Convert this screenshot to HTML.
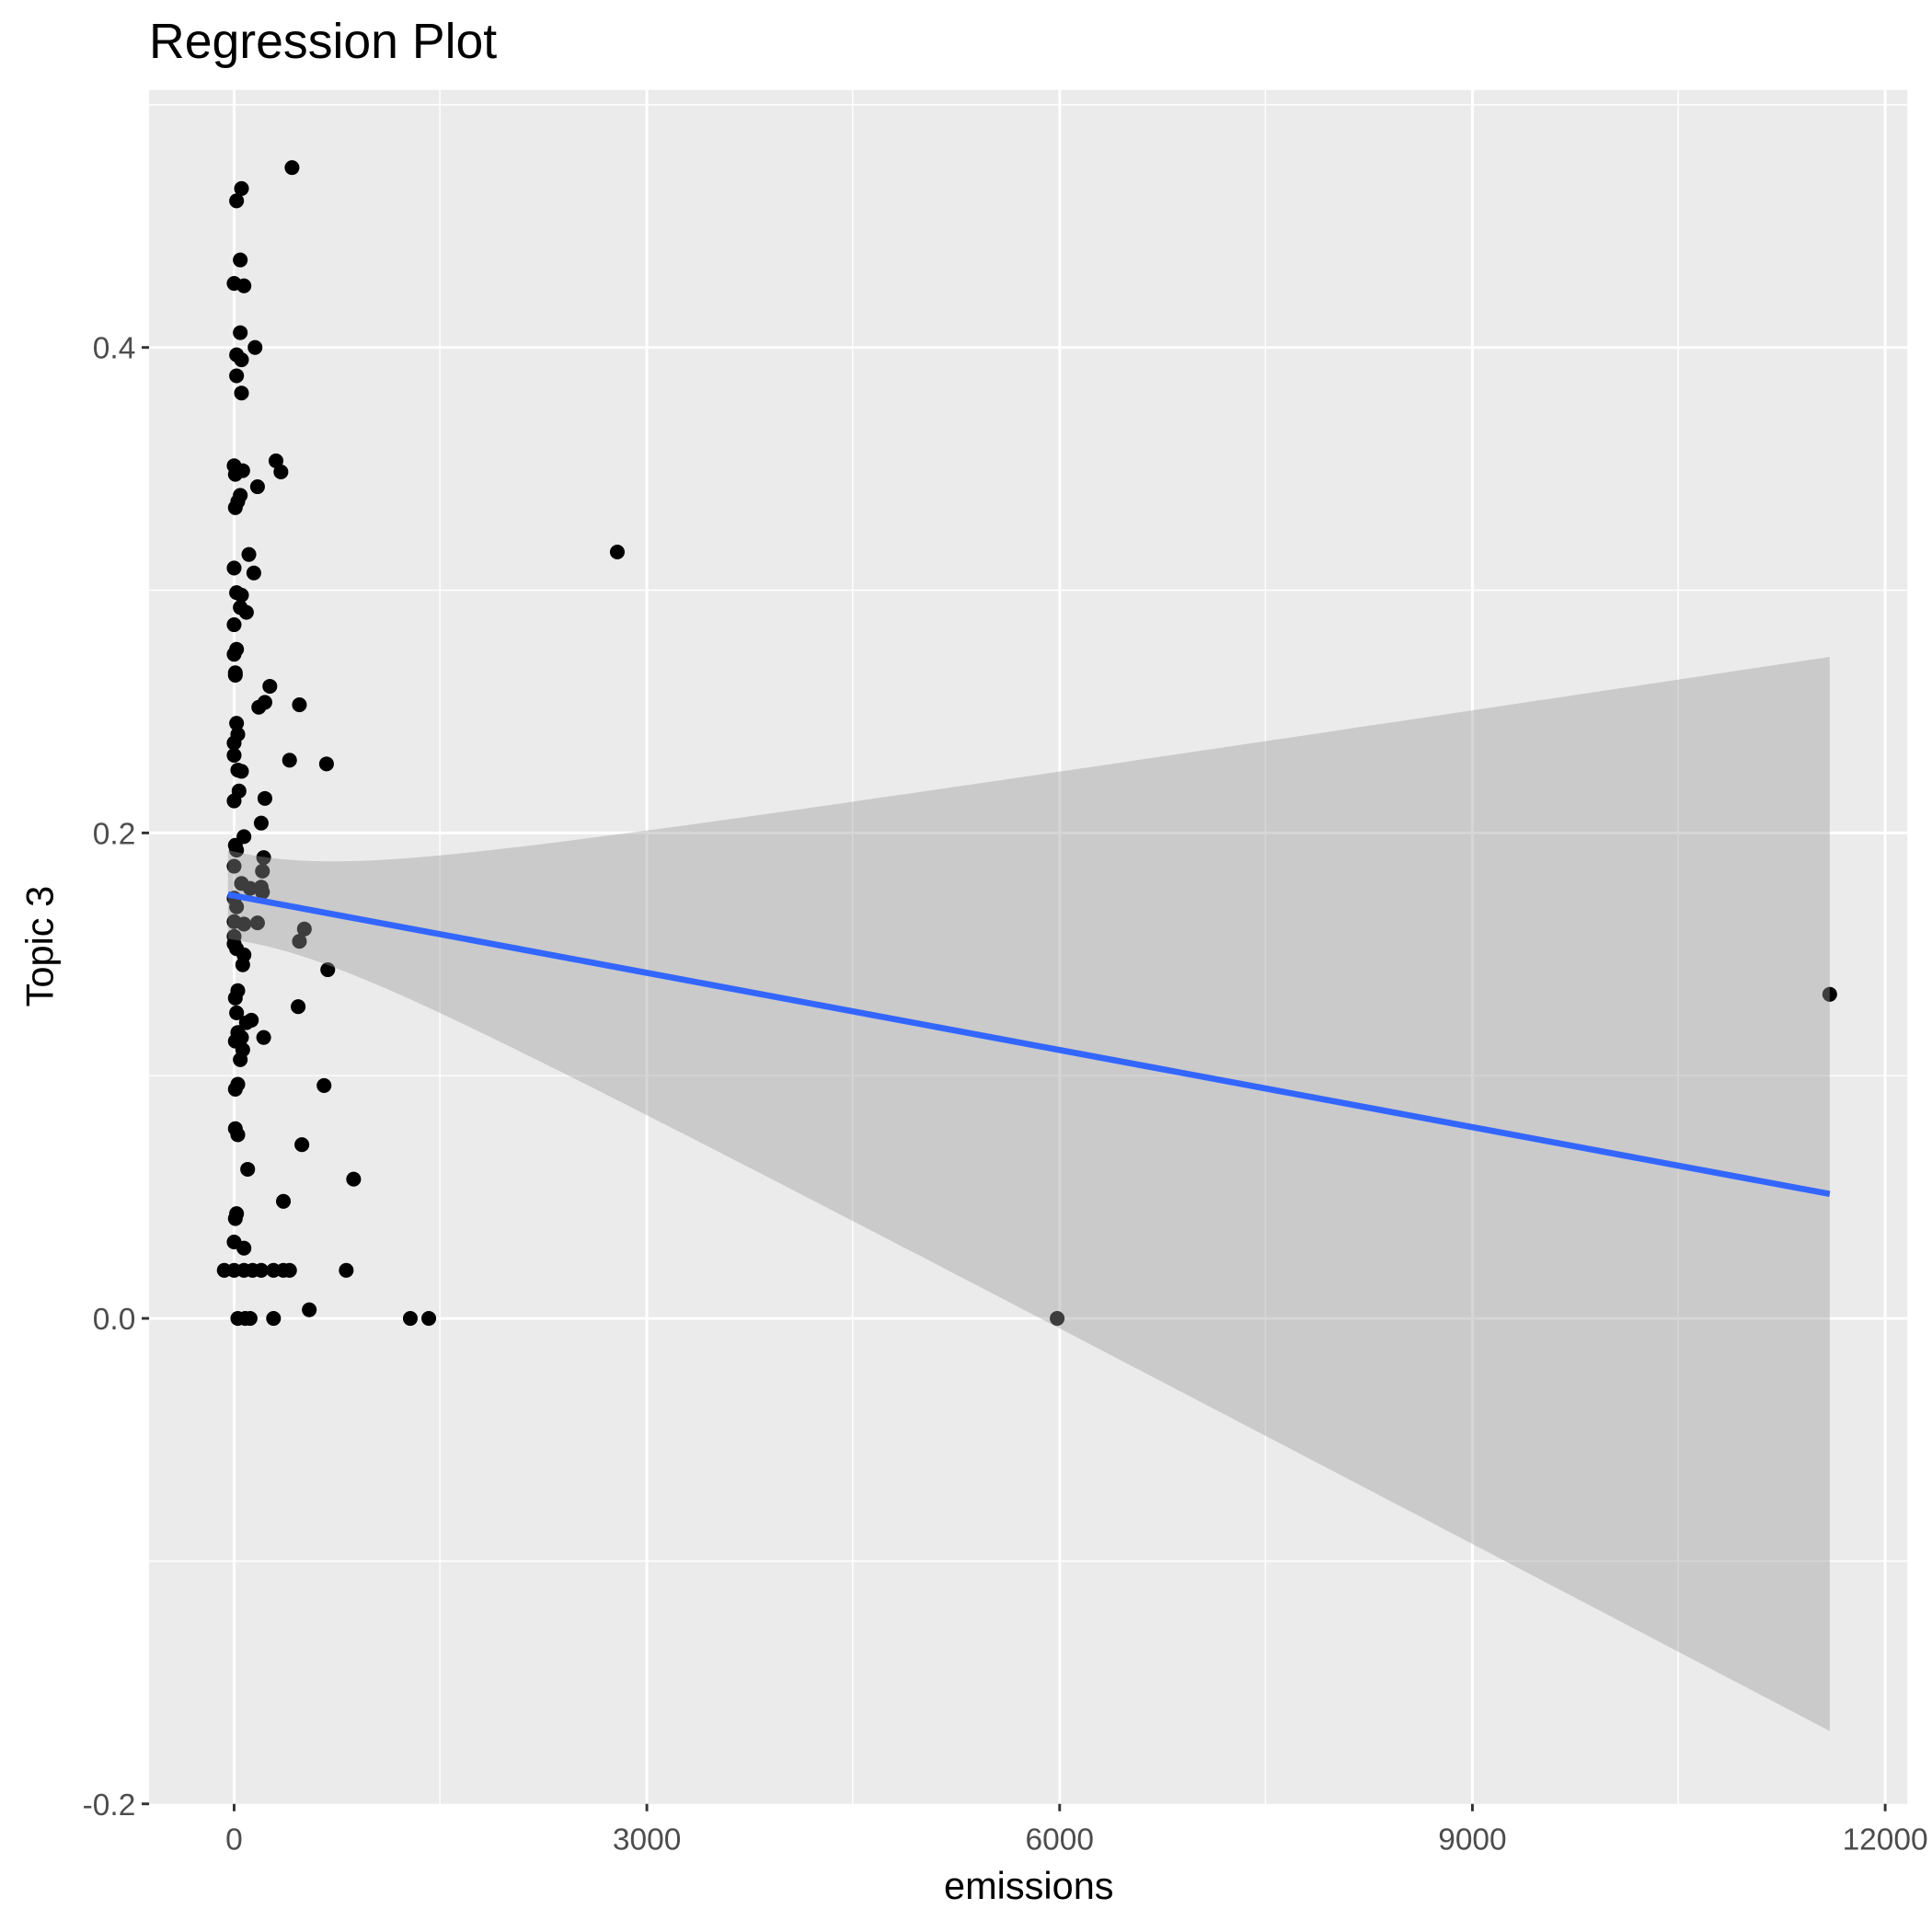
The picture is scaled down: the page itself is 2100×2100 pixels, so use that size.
<!DOCTYPE html>
<html><head><meta charset="utf-8"><style>html,body{margin:0;padding:0;background:#fff}svg{display:block}</style></head>
<body>
<svg width="2100" height="2100" viewBox="0 0 1568 1568" xmlns="http://www.w3.org/2000/svg" font-family="Liberation Sans, Arial, sans-serif">
<rect x="121" y="73" width="1427" height="1391" fill="#EBEBEB"/>
<g stroke="#fff" stroke-width="1.1">
<line x1="121" x2="1548" y1="85" y2="85"/><line x1="121" x2="1548" y1="479" y2="479"/><line x1="121" x2="1548" y1="873" y2="873"/><line x1="121" x2="1548" y1="1267" y2="1267"/>
<line y1="73" y2="1464" x1="357" x2="357"/><line y1="73" y2="1464" x1="692" x2="692"/><line y1="73" y2="1464" x1="1027" x2="1027"/><line y1="73" y2="1464" x1="1362" x2="1362"/>
</g>
<g stroke="#fff" stroke-width="2.2">
<line x1="121" x2="1548" y1="282" y2="282"/><line x1="121" x2="1548" y1="676" y2="676"/><line x1="121" x2="1548" y1="1070" y2="1070"/>
<line y1="73" y2="1464" x1="190" x2="190"/><line y1="73" y2="1464" x1="525" x2="525"/><line y1="73" y2="1464" x1="860" x2="860"/><line y1="73" y2="1464" x1="1195" x2="1195"/><line y1="73" y2="1464" x1="1530" x2="1530"/>
</g>
<g fill="#000">
<circle cx="237" cy="136" r="6"/><circle cx="196" cy="153" r="6"/><circle cx="192" cy="163" r="6"/><circle cx="195" cy="211" r="6"/><circle cx="190" cy="230" r="6"/><circle cx="198" cy="232" r="6"/><circle cx="195" cy="270" r="6"/><circle cx="207" cy="282" r="6"/><circle cx="192" cy="288" r="6"/><circle cx="196" cy="292" r="6"/><circle cx="192" cy="305" r="6"/><circle cx="196" cy="319" r="6"/><circle cx="224" cy="374" r="6"/><circle cx="228" cy="383" r="6"/><circle cx="190" cy="378" r="6"/><circle cx="197" cy="382" r="6"/><circle cx="191" cy="385" r="6"/><circle cx="209" cy="395" r="6"/><circle cx="195" cy="402" r="6"/><circle cx="193" cy="407" r="6"/><circle cx="191" cy="412" r="6"/><circle cx="501" cy="448" r="6"/><circle cx="202" cy="450" r="6"/><circle cx="206" cy="465" r="6"/><circle cx="190" cy="461" r="6"/><circle cx="192" cy="481" r="6"/><circle cx="196" cy="483" r="6"/><circle cx="195" cy="493" r="6"/><circle cx="200" cy="497" r="6"/><circle cx="190" cy="507" r="6"/><circle cx="192" cy="527" r="6"/><circle cx="190" cy="531" r="6"/><circle cx="191" cy="546" r="6"/><circle cx="191" cy="548" r="6"/><circle cx="219" cy="557" r="6"/><circle cx="243" cy="572" r="6"/><circle cx="215" cy="570" r="6"/><circle cx="210" cy="574" r="6"/><circle cx="192" cy="587" r="6"/><circle cx="193" cy="596" r="6"/><circle cx="190" cy="603" r="6"/><circle cx="190" cy="613" r="6"/><circle cx="235" cy="617" r="6"/><circle cx="265" cy="620" r="6"/><circle cx="193" cy="625" r="6"/><circle cx="196" cy="626" r="6"/><circle cx="194" cy="642" r="6"/><circle cx="215" cy="648" r="6"/><circle cx="190" cy="650" r="6"/><circle cx="212" cy="668" r="6"/><circle cx="198" cy="679" r="6"/><circle cx="191" cy="686" r="6"/><circle cx="192" cy="690" r="6"/><circle cx="214" cy="696" r="6"/><circle cx="213" cy="707" r="6"/><circle cx="190" cy="703" r="6"/><circle cx="212" cy="720" r="6"/><circle cx="213" cy="724" r="6"/><circle cx="196" cy="717" r="6"/><circle cx="190" cy="729" r="6"/><circle cx="192" cy="736" r="6"/><circle cx="203" cy="721" r="6"/><circle cx="198" cy="750" r="6"/><circle cx="209" cy="749" r="6"/><circle cx="190" cy="748" r="6"/><circle cx="247" cy="754" r="6"/><circle cx="243" cy="764" r="6"/><circle cx="190" cy="760" r="6"/><circle cx="190" cy="766" r="6"/><circle cx="192" cy="770" r="6"/><circle cx="198" cy="775" r="6"/><circle cx="197" cy="783" r="6"/><circle cx="266" cy="787" r="6"/><circle cx="193" cy="804" r="6"/><circle cx="191" cy="810" r="6"/><circle cx="242" cy="817" r="6"/><circle cx="192" cy="822" r="6"/><circle cx="204" cy="828" r="6"/><circle cx="200" cy="830" r="6"/><circle cx="193" cy="838" r="6"/><circle cx="196" cy="842" r="6"/><circle cx="214" cy="842" r="6"/><circle cx="191" cy="845" r="6"/><circle cx="197" cy="852" r="6"/><circle cx="195" cy="860" r="6"/><circle cx="193" cy="880" r="6"/><circle cx="191" cy="884" r="6"/><circle cx="263" cy="881" r="6"/><circle cx="191" cy="916" r="6"/><circle cx="193" cy="921" r="6"/><circle cx="245" cy="929" r="6"/><circle cx="201" cy="949" r="6"/><circle cx="287" cy="957" r="6"/><circle cx="230" cy="975" r="6"/><circle cx="192" cy="985" r="6"/><circle cx="191" cy="989" r="6"/><circle cx="190" cy="1008" r="6"/><circle cx="198" cy="1013" r="6"/><circle cx="182" cy="1031" r="6"/><circle cx="190" cy="1031" r="6"/><circle cx="198" cy="1031" r="6"/><circle cx="205" cy="1031" r="6"/><circle cx="212" cy="1031" r="6"/><circle cx="222" cy="1031" r="6"/><circle cx="230" cy="1031" r="6"/><circle cx="235" cy="1031" r="6"/><circle cx="281" cy="1031" r="6"/><circle cx="193" cy="1070" r="6"/><circle cx="199" cy="1070" r="6"/><circle cx="203" cy="1070" r="6"/><circle cx="222" cy="1070" r="6"/><circle cx="251" cy="1063" r="6"/><circle cx="333" cy="1070" r="6"/><circle cx="348" cy="1070" r="6"/><circle cx="858" cy="1070" r="6"/><circle cx="1485" cy="807" r="6"/>
</g>
<path id="band" d="M185,690 L1485,537 L1485,1401 L185,762 Z" fill="#999" fill-opacity="0.4"/>
<script>
(function(){
  var up=[],lo=[];
  for(var i=0;i<=130;i++){
    var x=185+i*10;
    var y=726+(x-185)*0.18692;
    var h=Math.sqrt(1270+0.1143*(x-200)*(x-200));
    up.push(x.toFixed(1)+','+(y-h).toFixed(1));
    lo.push(x.toFixed(1)+','+(y+h).toFixed(1));
  }
  lo.reverse();
  document.getElementById('band').setAttribute('d','M'+up.join(' L')+' L'+lo.join(' L')+' Z');
})();
</script>
<line x1="185" y1="726" x2="1485" y2="969" stroke="#3366FF" stroke-width="5"/>
<g stroke="#333" stroke-width="2.2">
<line x1="115" x2="121" y1="282" y2="282"/><line x1="115" x2="121" y1="676" y2="676"/><line x1="115" x2="121" y1="1070" y2="1070"/><line x1="115" x2="121" y1="1464" y2="1464"/>
<line y1="1464" y2="1470" x1="190" x2="190"/><line y1="1464" y2="1470" x1="525" x2="525"/><line y1="1464" y2="1470" x1="860" x2="860"/><line y1="1464" y2="1470" x1="1195" x2="1195"/><line y1="1464" y2="1470" x1="1530" x2="1530"/>
</g>
<g fill="#4D4D4D" font-size="25" text-anchor="end">
<text x="110" y="291">0.4</text><text x="110" y="685">0.2</text><text x="110" y="1079">0.0</text><text x="110" y="1473">-0.2</text>
</g>
<g fill="#4D4D4D" font-size="25" text-anchor="middle">
<text x="190" y="1501">0</text><text x="525" y="1501">3000</text><text x="860" y="1501">6000</text><text x="1195" y="1501">9000</text><text x="1530" y="1501">12000</text>
</g>
<text x="835" y="1541" font-size="31" text-anchor="middle" fill="#000">emissions</text>
<text transform="translate(43,768) rotate(-90)" font-size="31" text-anchor="middle" fill="#000">Topic 3</text>
<text x="121" y="47" font-size="40" fill="#000">Regression Plot</text>
</svg>
</body></html>
